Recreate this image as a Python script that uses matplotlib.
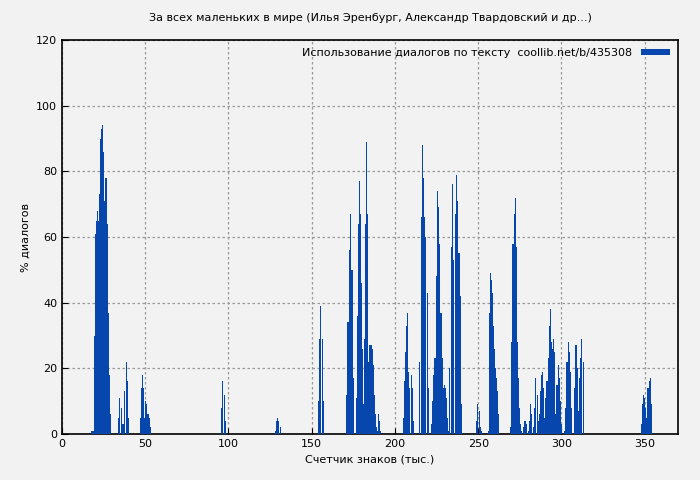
import numpy as np
import matplotlib
matplotlib.use("Agg")
import matplotlib.pyplot as plt

seg_starts = [18, 34, 47, 96, 128, 154, 171, 177, 205, 215, 222, 233, 249, 256, 269, 277, 284, 302, 308, 348]
seg_ends   = [29, 40, 53, 98, 131, 157, 175, 191, 211, 220, 232, 240, 252, 262, 276, 283, 300, 306, 313, 354]
seg_values = [
    [1,1,30,61,65,68,65,73,90,93,94,86,71,78,64,37,18,6],
    [5,11,8,3,3,13,22,16,5],
    [5,14,18,14,5,10,9,6,5,2],
    [8,16,12,4],
    [1,4,5,4,2],
    [10,29,39,29,10],
    [12,34,56,67,50,17],
    [11,36,64,77,67,46,26,12,9,29,64,89,67,22,27,26,27,24,26,21,12,6,2,1,6,4,1],
    [5,16,25,33,37,19,14,18,14,4],
    [22,66,88,78,66,60,43,14],
    [3,10,18,23,23,48,74,69,58,37,23,14,15,14,11,5,1],
    [20,57,76,53,67,79,71,55,42,9],
    [4,9,7,2,1],
    [1,12,37,49,47,43,33,26,20,17,13,6],
    [0,2,28,58,67,72,57,28,17,8,3,1],
    [2,4,4,3,1,4,9,6,2],
    [8,17,12,4,6,13,18,19,14,5,11,16,23,33,38,28,26,29,25,6,15,21,17,10,3],
    [1,8,22,28,25,19,8],
    [14,27,20,7,17,23,29,22],
    [3,9,12,11,8,5,14,16,17,9],
]
title = "За всех маленьких в мире (Илья Эренбург, Александр Твардовский и др...)"
legend_label = "Использование диалогов по тексту  coollib.net/b/435308"

xs, ys = [], []
for s, e, v in zip(seg_starts, seg_ends, seg_values):
    xs.extend(np.linspace(s, e, len(v)))
    ys.extend(v)

bg = "#f2f2f2"
fig = plt.figure(figsize=(7, 4.8), dpi=100, facecolor=bg)
ax = fig.add_axes([62/700, 46/480, 616/700, 394/480], facecolor=bg)
ax.bar(xs, ys, width=0.65, color="#0646ad", label=legend_label, zorder=3)
ax.set_xlim(0, 370)
ax.set_ylim(0, 120)
ax.set_xticks([0, 50, 100, 150, 200, 250, 300, 350])
ax.set_yticks(range(0, 121, 20))
ax.grid(True, color="#999999", linestyle=(0, (2, 2)), linewidth=0.9, zorder=0)
ax.tick_params(labelsize=8, direction="in", length=4)
for sp in ax.spines.values():
    sp.set_linewidth(1.2)
ax.set_xlabel("Счетчик знаков (тыс.)", fontsize=8)
ax.set_ylabel("% диалогов", fontsize=8)
ax.set_title(title, fontsize=8, pad=14)
leg = ax.legend(loc="upper right", frameon=False, fontsize=8, markerfirst=False,
                handlelength=2.6, handleheight=0.5, borderaxespad=0.3)
fig.savefig("out.png", dpi=100, facecolor=bg)
